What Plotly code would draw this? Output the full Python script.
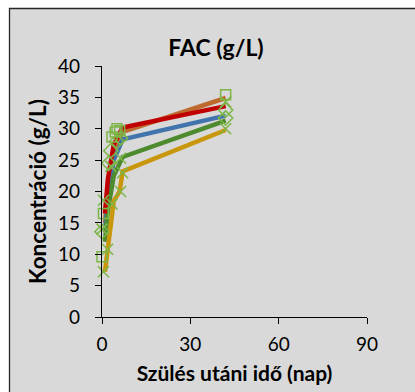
import plotly.graph_objects as go

# Data
days = [1, 2, 4, 6, 7, 42]
red = [16.5, 22.0, 27.5, 29.5, 30.2, 33.6]
brown = [15.0, 21.0, 26.5, 28.8, 29.5, 34.9]
blue = [13.5, 19.0, 25.0, 27.5, 28.3, 32.1]
green = [12.0, 17.0, 22.5, 24.8, 25.5, 31.3]
gold = [7.2, 10.8, 18.5, 20.0, 23.2, 29.8]

sq_days = [0, 0.5, 3.4, 4.5, 5.1, 6, 42]
sq_vals = [9.6, 16.5, 28.7, 29.5, 30.0, 29.7, 35.4]
dia_days = [0, 2.3, 3, 5, 6.3, 42, 42]
dia_vals = [13.6, 24.5, 26.5, 28.0, 28.5, 33.0, 31.7]
x_days = [0.5, 1.9, 0.5, 3.4, 6.3, 7, 6.3, 3, 0, 42, 42]
x_vals = [7.2, 10.8, 18.6, 18.0, 20.0, 23.0, 25.3, 24.0, 14.0, 34.3, 30.0]

x_ticks = [0, 30, 60, 90]
y_ticks = [0, 5, 10, 15, 20, 25, 30, 35, 40]

line_series = [
    ("brown", brown, "#BE6A2E"),
    ("blue", blue, "#4173AC"),
    ("green", green, "#4E8A2E"),
    ("gold", gold, "#C9970C"),
    ("red", red, "#C00000"),
]

fig = go.Figure()
for name, vals, col in line_series:
    fig.add_trace(go.Scatter(x=days, y=vals, mode="lines", name=name,
                             line=dict(color=col, width=4.5), cliponaxis=False))

mc = "#7DB646"
fig.add_trace(go.Scatter(x=sq_days, y=sq_vals, mode="markers", cliponaxis=False,
                         marker=dict(symbol="square-open", size=10, color=mc, line=dict(width=1.5, color=mc))))
fig.add_trace(go.Scatter(x=dia_days, y=dia_vals, mode="markers", cliponaxis=False,
                         marker=dict(symbol="diamond-open", size=11, color=mc, line=dict(width=1.5, color=mc))))
fig.add_trace(go.Scatter(x=x_days, y=x_vals, mode="markers", cliponaxis=False,
                         marker=dict(symbol="x-thin-open", size=11, color=mc, line=dict(width=1.5, color=mc))))

L, R, T, B = 102, 48, 66, 75
W, H = 415, 392
pw, ph = W - L - R, H - T - B

def px_x(p):
    return (p - L) / pw

def px_y(p):
    return (H - B - p) / ph

fig.add_shape(type="rect", xref="paper", yref="paper", layer="below",
              x0=px_x(9.5), x1=px_x(430), y0=px_y(8.5), y1=px_y(410),
              fillcolor="#D9D9D9", line=dict(color="#262626", width=1.3))

font = "Lato, Carlito, Calibri, sans-serif"
fig.update_layout(
    width=W, height=H, margin=dict(l=L, r=R, t=T, b=B, autoexpand=False),
    paper_bgcolor="white", plot_bgcolor="rgba(0,0,0,0)",
    showlegend=False,
    font=dict(family=font, color="black"),
    title=dict(text="<b>FAC (g/L)</b>", x=216 / W, xanchor="center",
               y=1 - 48 / H, yanchor="middle", font=dict(size=23, family=font, color="black")),
    xaxis=dict(range=[0, 90], tickvals=x_ticks, ticktext=[str(v) for v in x_ticks],
               automargin=False,
               showgrid=False, zeroline=False, showline=True, linecolor="black", linewidth=1.3,
               ticks="outside", ticklen=6, tickcolor="black", tickwidth=1.3,
               tickfont=dict(size=19, family=font), ticklabelstandoff=4,
               title=dict(text="<b>Szülés utáni idő (nap)</b>", font=dict(size=21, family=font), standoff=12)),
    yaxis=dict(range=[0, 40], tickvals=y_ticks, ticktext=[str(v) for v in y_ticks],
               automargin=False,
               showgrid=False, zeroline=False, showline=True, linecolor="black", linewidth=1.3,
               ticks="outside", ticklen=6, tickcolor="black", tickwidth=1.3,
               tickfont=dict(size=19, family=font), ticklabelstandoff=11,
               title=dict(text="<b>Koncentráció (g/L)</b>", font=dict(size=22.5, family=font), standoff=5)),
)

fig.write_html("out.html")
